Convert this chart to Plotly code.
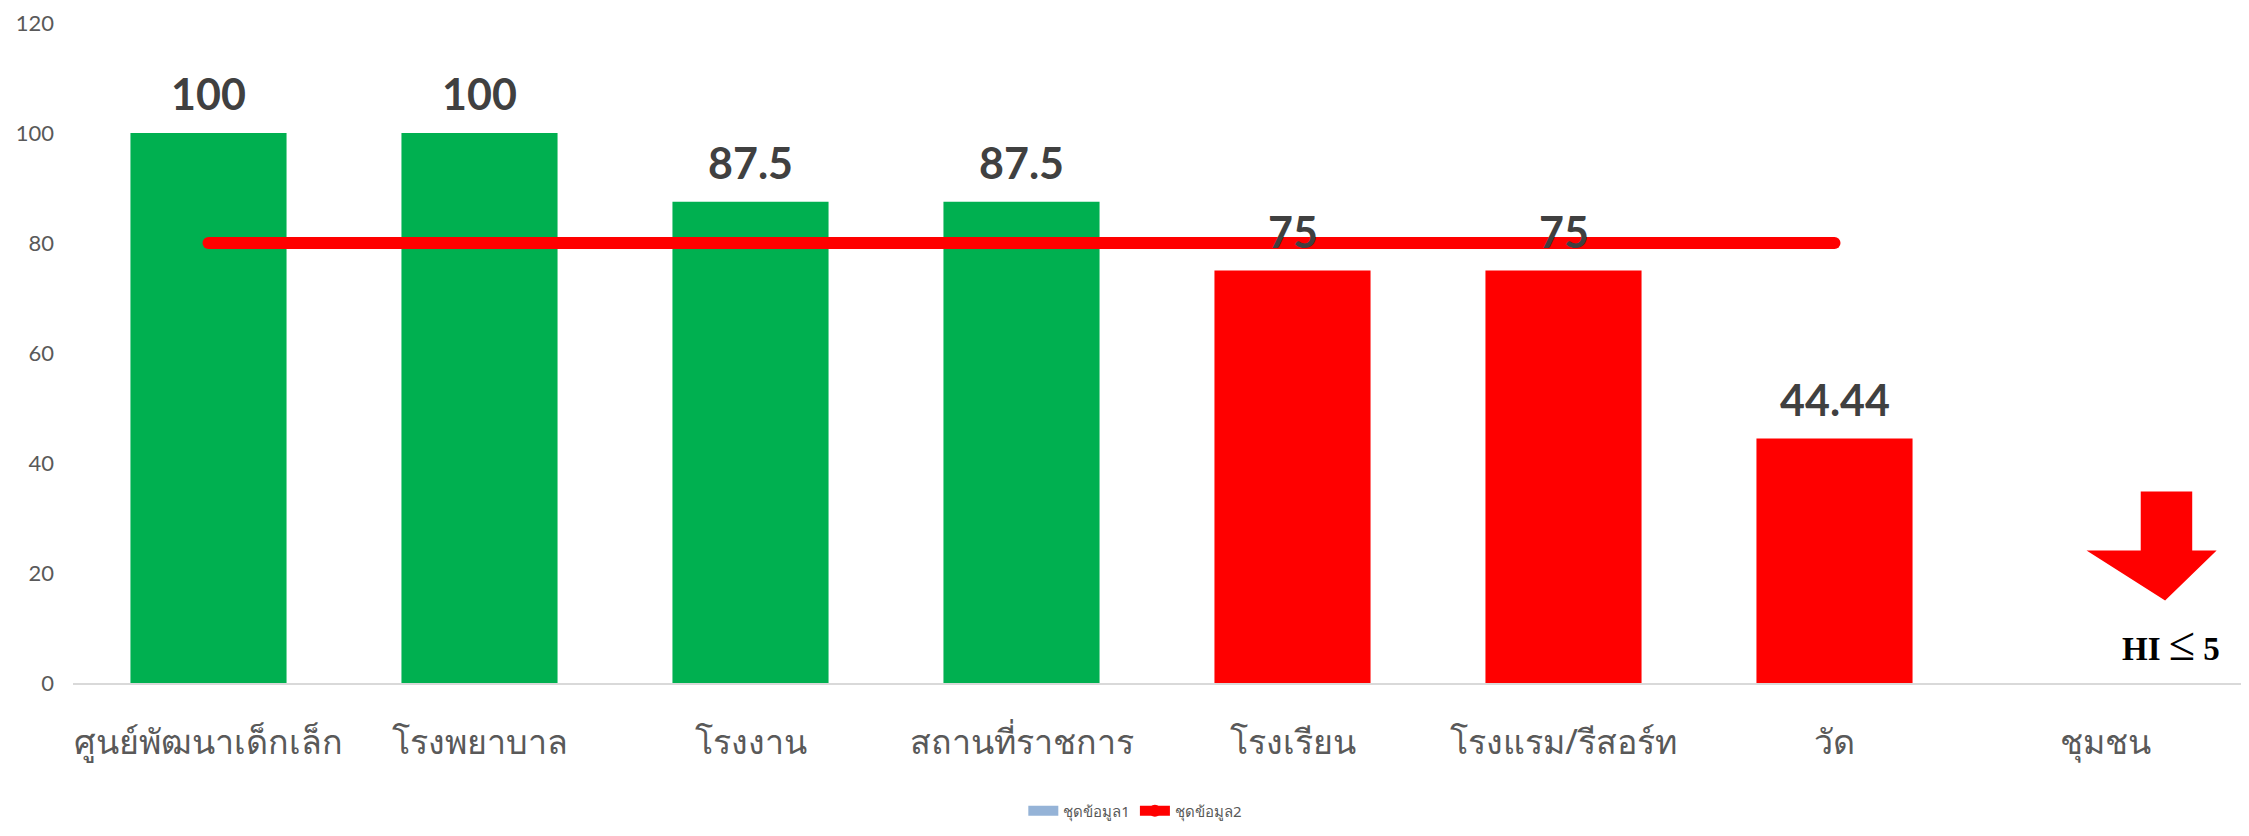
import plotly.graph_objects as go

categories = ["ศูนย์พัฒนาเด็กเล็ก", "โรงพยาบาล", "โรงงาน", "สถานที่ราชการ",
              "โรงเรียน", "โรงแรม/รีสอร์ท", "วัด", "ชุมชน"]
series1_values = [100, 100, 87.5, 87.5, 75, 75, 44.44, None]
series2_values = [80, 80, 80, 80, 80, 80, 80, None]
y_ticks = [0, 20, 40, 60, 80, 100, 120]
series_names = ["ชุดข้อมูล1", "ชุดข้อมูล2"]

GREEN = "#00B050"
RED = "#FF0000"
bar_colors = [GREEN, GREEN, GREEN, GREEN, RED, RED, RED, RED]

fig = go.Figure()

fig.add_trace(go.Bar(
    x=categories, y=series1_values, marker_color=bar_colors,
    marker_line_width=0, showlegend=False, name=series_names[0],
))
# legend swatch for series 1 (Excel default series colour)
fig.add_trace(go.Scatter(
    x=[None], y=[None], mode="lines", name=series_names[0],
    line=dict(color="#95B3D7", width=12),
))
fig.add_trace(go.Scatter(
    x=categories, y=series2_values, mode="lines+markers", name=series_names[1],
    line=dict(color=RED, width=12), marker=dict(color=RED, size=12),
))

annotations = []
for c, v in zip(categories, series1_values):
    if v is None:
        continue
    annotations.append(dict(
        x=c, y=v, xref="x", yref="y", text=f"{v:g}", showarrow=False,
        yanchor="bottom", yshift=12,
        font=dict(family="Lato, sans-serif", size=43, color="#404040", weight="bold"),
    ))
annotations.append(dict(
    x=7.24, y=7.2, xref="x", yref="y",
    text="<b>HI </b><span style='font-size:48px'>≤</span><b> 5</b>", showarrow=False,
    font=dict(family="Liberation Serif, serif", size=33, color="#000000"),
))

fig.add_shape(
    type="path", xref="x", yref="y",
    path="M 7.13 34.8 L 7.32 34.8 L 7.32 24.1 L 7.41 24.1 L 7.22 15.0 L 6.93 24.1 L 7.13 24.1 Z",
    fillcolor=RED, line=dict(width=0),
)

fig.update_layout(
    width=2233, height=820,
    paper_bgcolor="white", plot_bgcolor="white",
    margin=dict(l=65, r=0, t=15, b=145, autoexpand=False),
    bargap=0.424,
    annotations=annotations,
    legend=dict(orientation="h", x=0.49, xanchor="center", y=-0.219, yanchor="bottom",
                font=dict(family="Noto Sans, sans-serif", size=15, color="#595959")),
    font=dict(family="Lato, sans-serif", color="#595959"),
)
fig.update_xaxes(
    type="category", range=[-0.5, 7.5], showgrid=False, automargin=False,
    showline=True, linecolor="#D9D9D9", linewidth=2,
    tickfont=dict(family="Noto Sans, sans-serif", size=34, color="#595959"),
    ticks="", ticklabelstandoff=28,
)
fig.update_yaxes(
    range=[0, 120], tickvals=y_ticks, showgrid=False, zeroline=False, automargin=False,
    showline=False, ticks="", ticklabeloverflow="allow",
    tickfont=dict(family="Lato, sans-serif", size=22, color="#595959"),
    ticklabelstandoff=18,
)

fig.write_html("out.html")
